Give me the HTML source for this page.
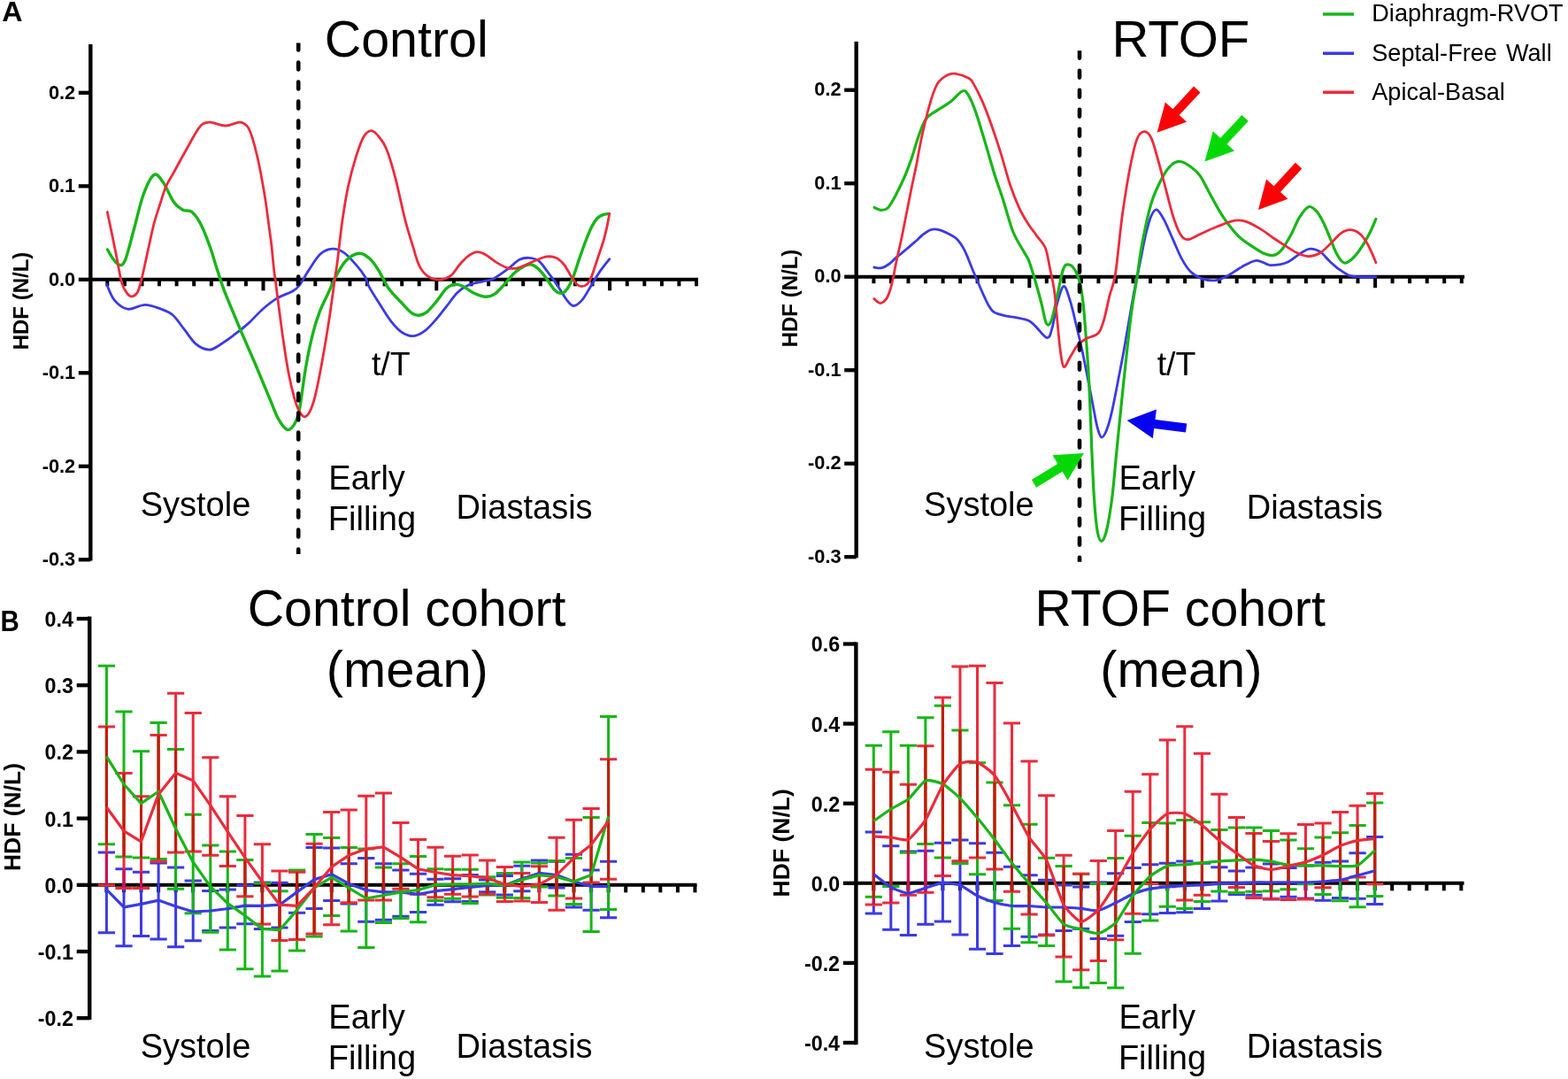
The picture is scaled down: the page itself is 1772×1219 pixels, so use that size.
<!DOCTYPE html>
<html><head><meta charset="utf-8"><title>HDF figure</title>
<style>
html,body{margin:0;padding:0;background:#fff;}
svg{display:block;}
text{font-family:'Liberation Sans', Arial, sans-serif;fill:#000;}
</style></head>
<body>
<svg width="1772" height="1219" viewBox="0 0 1772 1219">
<rect width="1772" height="1219" fill="#fff"/>
<text x="2.2" y="24" font-size="32.2" font-weight="bold" text-anchor="start">A</text>
<line x1="102.3" y1="50" x2="102.3" y2="633.5" stroke="#000" stroke-width="4.4"/>
<line x1="88.8" y1="104.8" x2="102.3" y2="104.8" stroke="#000" stroke-width="4.3"/>
<text x="85.2" y="111.5" font-size="21.8" font-weight="bold" text-anchor="end">0.2</text>
<line x1="88.8" y1="210.3" x2="102.3" y2="210.3" stroke="#000" stroke-width="4.3"/>
<text x="85.2" y="217" font-size="21.8" font-weight="bold" text-anchor="end">0.1</text>
<line x1="88.8" y1="315.8" x2="102.3" y2="315.8" stroke="#000" stroke-width="4.3"/>
<text x="85.2" y="322.5" font-size="21.8" font-weight="bold" text-anchor="end">0.0</text>
<line x1="88.8" y1="421.3" x2="102.3" y2="421.3" stroke="#000" stroke-width="4.3"/>
<text x="85.2" y="428" font-size="21.8" font-weight="bold" text-anchor="end">-0.1</text>
<line x1="88.8" y1="526.8" x2="102.3" y2="526.8" stroke="#000" stroke-width="4.3"/>
<text x="85.2" y="533.5" font-size="21.8" font-weight="bold" text-anchor="end">-0.2</text>
<line x1="88.8" y1="632.3" x2="102.3" y2="632.3" stroke="#000" stroke-width="4.3"/>
<text x="85.2" y="639" font-size="21.8" font-weight="bold" text-anchor="end">-0.3</text>
<line x1="102.3" y1="315.8" x2="789" y2="315.8" stroke="#000" stroke-width="4"/>
<line x1="121.3" y1="315.8" x2="121.3" y2="323.3" stroke="#000" stroke-width="4"/>
<line x1="140.9" y1="315.8" x2="140.9" y2="323.3" stroke="#000" stroke-width="4"/>
<line x1="160.5" y1="315.8" x2="160.5" y2="323.3" stroke="#000" stroke-width="4"/>
<line x1="180" y1="315.8" x2="180" y2="323.3" stroke="#000" stroke-width="4"/>
<line x1="199.6" y1="315.8" x2="199.6" y2="323.3" stroke="#000" stroke-width="4"/>
<line x1="219.2" y1="315.8" x2="219.2" y2="323.3" stroke="#000" stroke-width="4"/>
<line x1="238.8" y1="315.8" x2="238.8" y2="323.3" stroke="#000" stroke-width="4"/>
<line x1="258.4" y1="315.8" x2="258.4" y2="323.3" stroke="#000" stroke-width="4"/>
<line x1="277.9" y1="315.8" x2="277.9" y2="323.3" stroke="#000" stroke-width="4"/>
<line x1="297.5" y1="315.8" x2="297.5" y2="328.3" stroke="#000" stroke-width="4"/>
<line x1="317.1" y1="315.8" x2="317.1" y2="323.3" stroke="#000" stroke-width="4"/>
<line x1="336.7" y1="315.8" x2="336.7" y2="323.3" stroke="#000" stroke-width="4"/>
<line x1="356.3" y1="315.8" x2="356.3" y2="323.3" stroke="#000" stroke-width="4"/>
<line x1="375.8" y1="315.8" x2="375.8" y2="323.3" stroke="#000" stroke-width="4"/>
<line x1="395.4" y1="315.8" x2="395.4" y2="323.3" stroke="#000" stroke-width="4"/>
<line x1="415" y1="315.8" x2="415" y2="323.3" stroke="#000" stroke-width="4"/>
<line x1="434.6" y1="315.8" x2="434.6" y2="323.3" stroke="#000" stroke-width="4"/>
<line x1="454.2" y1="315.8" x2="454.2" y2="323.3" stroke="#000" stroke-width="4"/>
<line x1="473.7" y1="315.8" x2="473.7" y2="323.3" stroke="#000" stroke-width="4"/>
<line x1="493.3" y1="315.8" x2="493.3" y2="328.3" stroke="#000" stroke-width="4"/>
<line x1="512.9" y1="315.8" x2="512.9" y2="323.3" stroke="#000" stroke-width="4"/>
<line x1="532.5" y1="315.8" x2="532.5" y2="323.3" stroke="#000" stroke-width="4"/>
<line x1="552.1" y1="315.8" x2="552.1" y2="323.3" stroke="#000" stroke-width="4"/>
<line x1="571.6" y1="315.8" x2="571.6" y2="323.3" stroke="#000" stroke-width="4"/>
<line x1="591.2" y1="315.8" x2="591.2" y2="323.3" stroke="#000" stroke-width="4"/>
<line x1="610.8" y1="315.8" x2="610.8" y2="323.3" stroke="#000" stroke-width="4"/>
<line x1="630.4" y1="315.8" x2="630.4" y2="323.3" stroke="#000" stroke-width="4"/>
<line x1="650" y1="315.8" x2="650" y2="323.3" stroke="#000" stroke-width="4"/>
<line x1="669.5" y1="315.8" x2="669.5" y2="323.3" stroke="#000" stroke-width="4"/>
<line x1="689.1" y1="315.8" x2="689.1" y2="328.3" stroke="#000" stroke-width="4"/>
<line x1="708.7" y1="315.8" x2="708.7" y2="323.3" stroke="#000" stroke-width="4"/>
<line x1="728.3" y1="315.8" x2="728.3" y2="323.3" stroke="#000" stroke-width="4"/>
<line x1="747.9" y1="315.8" x2="747.9" y2="323.3" stroke="#000" stroke-width="4"/>
<line x1="767.4" y1="315.8" x2="767.4" y2="323.3" stroke="#000" stroke-width="4"/>
<line x1="787" y1="315.8" x2="787" y2="323.3" stroke="#000" stroke-width="4"/>
<text x="0" y="0" font-size="24" font-weight="bold" text-anchor="middle" transform="translate(32.2,340) rotate(-90)">HDF (N/L)</text>
<text x="459.2" y="64.2" font-size="57.4" font-weight="normal" text-anchor="middle">Control</text>
<text x="441.8" y="424" font-size="37.5" font-weight="normal" text-anchor="middle">t/T</text>
<text x="221" y="582.7" font-size="38" font-weight="normal" text-anchor="middle">Systole</text>
<text x="371.3" y="552.9" font-size="38" font-weight="normal" text-anchor="start">Early</text>
<text x="370.8" y="599.1" font-size="38" font-weight="normal" text-anchor="start">Filling</text>
<text x="592.5" y="585.9" font-size="38" font-weight="normal" text-anchor="middle">Diastasis</text>
<g fill="none" stroke-linejoin="round" stroke-linecap="round">
<path d="M120.5,321.3 C122,324.3 125.5,334.8 129.5,339.4 C133.5,344 138.6,348.4 144.3,349.2 C150.1,350 157.7,344.3 164,344.3 C170.3,344.3 176.8,347.3 182,349.2 C187.2,351.1 190.7,352 195.1,355.8 C199.5,359.6 203.9,366.7 208.3,372.2 C212.7,377.7 216.8,384.8 221.4,388.6 C226.1,392.4 231.8,394.8 236.2,395.1 C240.6,395.4 243,392.9 247.6,390.2 C252.2,387.5 258.5,382.8 264,378.7 C269.5,374.6 274.9,370.5 280.4,365.6 C285.9,360.7 291.4,354 296.9,349.2 C302.4,344.4 307.8,340.2 313.3,336.9 C318.8,333.6 325.6,331.8 329.7,329.5 C333.8,327.2 334.7,327 337.9,323 C341.1,319 344.7,311.6 348.7,305.6 C352.7,299.6 357.5,291.1 362,287 C366.5,282.9 371.3,281.4 375.7,281.1 C380.1,280.8 384.2,282.4 388.6,285.4 C393.1,288.4 398.4,294.6 402.4,299.2 C406.4,303.8 410.2,308.8 412.7,313 C415.2,317.2 414.4,319 417.3,324.3 C420.2,329.6 425.7,338.1 429.8,344.6 C433.9,351.1 438.1,358.1 442.2,363.3 C446.3,368.5 450.5,373 454.7,375.7 C458.9,378.4 463,379.9 467.2,379.6 C471.4,379.4 475.5,377.2 479.6,374.2 C483.8,371.2 487.9,366.4 492.1,361.7 C496.3,357 500.5,351.3 504.6,346.1 C508.8,340.9 512.9,334.5 517,330.5 C521.1,326.5 524.8,324.1 529.5,322 C534.2,319.9 540.4,319.3 545.1,318.1 C549.8,316.9 552.9,317.2 557.6,314.9 C562.3,312.6 568.6,307.8 573.5,304.2 C578.4,300.6 583,295.4 587.1,293.3 C591.2,291.2 594.3,291.1 597.9,291.3 C601.5,291.5 605.2,291.9 608.8,294.7 C612.4,297.5 616,303.5 619.6,308.2 C623.2,312.9 627,318.1 630.4,323.1 C633.8,328.1 637,334.3 639.9,338 C642.8,341.7 645.1,345.3 648,345.5 C650.9,345.7 654.3,342.9 657.5,339.4 C660.7,335.9 663.6,329.9 667,324.5 C670.4,319.1 674.2,312.2 677.8,306.9 C681.4,301.6 686.9,295.1 688.7,292.7" stroke="#3a3ae6" stroke-width="2.8"/>
<path d="M121.5,282 C122.5,283.7 125.3,289.1 127.5,292 C129.7,294.9 132.2,298.9 134.5,299.2 C136.8,299.5 138.5,300.9 141.4,294 C144.3,287.1 148.3,270.1 151.7,257.8 C155.1,245.5 158.3,230.1 162,220 C165.7,209.9 170.4,199.8 174.1,197.5 C177.8,195.2 180.7,200.9 184.4,206.1 C188.1,211.3 192.8,223.3 196.5,228.5 C200.2,233.7 203.4,235.3 206.8,237.2 C210.2,239.1 213.8,236.8 217.2,239.7 C220.6,242.6 224.1,247.7 227.5,254.4 C230.9,261.1 235.1,272.6 237.8,280.2 C240.6,287.8 241.5,292.3 244,300 C246.5,307.7 249.3,317.2 252.6,326.2 C255.9,335.2 260.7,346.2 264,354.1 C267.3,362 268.1,364.2 272.2,373.8 C276.3,383.4 283.1,398.6 288.6,411.5 C294.1,424.4 300.6,440.5 305,450.9 C309.4,461.3 311.6,468.1 314.9,473.9 C318.2,479.6 321.7,484.6 324.7,485.4 C327.7,486.2 330.6,482.7 332.9,478.8 C335.2,474.9 336.4,472.7 338.5,462 C340.6,451.3 343.1,428.8 345.6,414.7 C348.1,400.6 350.8,387.7 353.4,377.3 C356,366.9 358.3,359.8 361.2,352.3 C364.1,344.8 367.4,338.9 370.5,332.1 C373.6,325.4 376.5,318 379.9,311.8 C383.3,305.6 386.5,298.9 390.8,294.7 C395.1,290.4 401.3,286.7 405.8,286.3 C410.3,285.9 414.2,289 417.9,292.3 C421.6,295.6 424.7,300.4 428.2,306 C431.7,311.6 434.7,319.6 439.1,325.8 C443.5,332 450.3,338.3 454.7,343 C459.1,347.7 462.5,351.7 465.6,353.9 C468.7,356.1 470.5,356.5 473.4,356.2 C476.2,355.9 479.3,355 482.7,352.3 C486.1,349.6 490,344.3 493.7,339.9 C497.4,335.5 501.2,328.9 504.6,325.8 C508,322.7 510.8,321.6 513.9,321.2 C517,320.8 519.7,321.8 523.3,323.5 C526.9,325.2 531.6,329.4 535.7,331.3 C539.9,333.2 544.3,335.1 548.2,335.2 C552.1,335.3 555.3,334.6 559.1,332.1 C562.9,329.6 566.8,324.6 570.8,320.4 C574.8,316.2 578.5,310.5 583,306.9 C587.5,303.3 593.8,299.5 597.9,298.8 C602,298.1 604.2,300.3 607.4,302.8 C610.6,305.3 613.7,309.6 616.9,313.7 C620.1,317.8 623.5,324.3 626.4,327.2 C629.3,330.1 632,331.5 634.5,331.3 C637,331.1 639,329.1 641.3,325.9 C643.5,322.7 645.8,317.9 648,312.3 C650.2,306.7 652.5,298.6 654.8,292 C657.1,285.4 659.3,278.9 661.6,273 C663.9,267.1 666.2,261.2 668.4,256.8 C670.6,252.4 672.9,248.8 675,246.5 C677.1,244.2 678.8,243.6 681,242.8 C683.2,242 686.8,241.7 688,241.5" stroke="#17b617" stroke-width="3.4"/>
<path d="M121.3,239.5 C122.3,244.2 125.3,258.7 127.2,267.7 C129.1,276.7 130.7,284.9 132.4,293.5 C134.1,302.1 135.6,313 137.5,319.3 C139.4,325.6 141.7,328.8 143.6,331.4 C145.5,334 147.2,335.1 149.2,334.8 C151.2,334.5 153.8,332.9 155.6,329.7 C157.4,326.5 158,323.4 159.9,315.9 C161.8,308.4 164.5,295.2 166.8,284.9 C169.1,274.6 171.4,262.8 173.7,253.9 C176,245 178.3,238.7 180.6,231.5 C182.9,224.3 184.9,216.9 187.5,210.9 C190.1,204.9 192.9,201.1 196.1,195.4 C199.2,189.7 203.2,182.2 206.4,176.5 C209.6,170.8 212.4,165.6 215,161 C217.6,156.4 219.6,152.4 221.9,148.9 C224.2,145.4 226.3,142 229,140.2 C231.7,138.4 233.5,137.8 237.8,138.1 C242.1,138.4 249.5,142 255,142 C260.5,142 266.6,138 270.6,138.1 C274.6,138.2 276.8,139.7 279.2,142.4 C281.6,145.2 282.8,148.5 284.8,154.6 C286.8,160.7 289.4,171 291.3,179.2 C293.2,187.4 294.7,195.6 296.2,203.8 C297.7,212 299.1,220.2 300.3,228.4 C301.5,236.6 302.5,244.7 303.6,252.9 C304.7,261.1 305.9,269.3 306.9,277.5 C307.8,285.7 308.6,295.8 309.3,302.1 C310,308.4 309.2,301.9 311,315.2 C312.8,328.5 317.2,364 319.8,382 C322.4,400 324.2,411.5 326.4,423 C328.6,434.5 331.1,444.1 333,450.9 C334.9,457.7 336.1,460.7 337.9,464 C339.7,467.3 341.9,470.7 344,470.8 C346.1,470.9 348.2,468.8 350.3,464.6 C352.4,460.5 354.2,455.5 356.5,445.9 C358.8,436.3 361.7,421.2 364.3,406.9 C366.9,392.6 369.8,375.3 372.1,360.1 C374.4,344.9 376.7,327 378.3,315.7 C379.9,304.4 380.3,303.4 381.7,292.3 C383.1,281.2 384.9,263 386.9,249.2 C388.9,235.4 391.1,221.6 393.7,209.6 C396.3,197.6 399.5,186.1 402.4,176.9 C405.3,167.7 408.1,159.4 411,154.5 C413.9,149.6 416.7,147.6 419.6,147.6 C422.5,147.6 425.3,151 428.2,154.5 C431.1,158 433.7,160.8 436.8,168.5 C439.9,176.2 443.1,187 446.7,200.6 C450.3,214.2 454.6,236.1 458.2,249.8 C461.8,263.5 466,276 468,282.7 C470,289.4 468.8,286.5 470,289.9 C471.2,293.3 473,299.2 475.2,302.9 C477.4,306.6 480,309.8 483,311.9 C486,314 489.9,315.4 493.4,315.8 C496.9,316.2 500.8,315.6 503.8,314.5 C506.8,313.4 509,312 511.6,309.4 C514.2,306.8 516.6,302.2 519.4,299 C522.2,295.8 525.2,292.3 528.4,289.9 C531.6,287.5 535.5,285.1 538.8,284.7 C542,284.3 544.2,285.4 547.9,287.3 C551.6,289.2 556.6,293.8 560.9,296.4 C565.2,299 570,301.8 573.9,302.9 C577.8,304 580.8,303.5 584.3,302.9 C587.8,302.2 591,300.5 594.7,299 C598.4,297.5 602.5,295.3 606.4,293.8 C610.3,292.3 614.3,290.3 618,289.9 C621.7,289.5 625.1,289.7 628.4,291.2 C631.6,292.7 634.7,295.6 637.5,299 C640.3,302.4 642.9,308.2 645.3,311.9 C647.7,315.6 649.8,319.1 651.8,321 C653.8,322.9 655,323.6 657,323.6 C659,323.6 661.5,322.9 663.5,321 C665.5,319.1 666.8,316.6 668.7,311.9 C670.7,307.1 673,299 675.2,292.5 C677.4,286 679.9,279.1 681.7,273 C683.5,266.9 684.8,261.3 686,256 C687.2,250.7 688.3,243.8 688.8,241.3" stroke="#ec2b3b" stroke-width="2.8"/>
</g>
<line x1="967.7" y1="47" x2="967.7" y2="630.3" stroke="#000" stroke-width="4.4"/>
<line x1="954.2" y1="101.7" x2="967.7" y2="101.7" stroke="#000" stroke-width="4.3"/>
<text x="950.6" y="108.4" font-size="21.8" font-weight="bold" text-anchor="end">0.2</text>
<line x1="954.2" y1="207.2" x2="967.7" y2="207.2" stroke="#000" stroke-width="4.3"/>
<text x="950.6" y="213.9" font-size="21.8" font-weight="bold" text-anchor="end">0.1</text>
<line x1="954.2" y1="312.7" x2="967.7" y2="312.7" stroke="#000" stroke-width="4.3"/>
<text x="950.6" y="319.4" font-size="21.8" font-weight="bold" text-anchor="end">0.0</text>
<line x1="954.2" y1="418.2" x2="967.7" y2="418.2" stroke="#000" stroke-width="4.3"/>
<text x="950.6" y="424.9" font-size="21.8" font-weight="bold" text-anchor="end">-0.1</text>
<line x1="954.2" y1="523.7" x2="967.7" y2="523.7" stroke="#000" stroke-width="4.3"/>
<text x="950.6" y="530.4" font-size="21.8" font-weight="bold" text-anchor="end">-0.2</text>
<line x1="954.2" y1="629.2" x2="967.7" y2="629.2" stroke="#000" stroke-width="4.3"/>
<text x="950.6" y="635.9" font-size="21.8" font-weight="bold" text-anchor="end">-0.3</text>
<line x1="967.7" y1="312.7" x2="1655" y2="312.7" stroke="#000" stroke-width="4"/>
<line x1="987.4" y1="312.7" x2="987.4" y2="320.2" stroke="#000" stroke-width="4"/>
<line x1="1006.9" y1="312.7" x2="1006.9" y2="320.2" stroke="#000" stroke-width="4"/>
<line x1="1026.5" y1="312.7" x2="1026.5" y2="320.2" stroke="#000" stroke-width="4"/>
<line x1="1046" y1="312.7" x2="1046" y2="320.2" stroke="#000" stroke-width="4"/>
<line x1="1065.6" y1="312.7" x2="1065.6" y2="320.2" stroke="#000" stroke-width="4"/>
<line x1="1085.1" y1="312.7" x2="1085.1" y2="320.2" stroke="#000" stroke-width="4"/>
<line x1="1104.6" y1="312.7" x2="1104.6" y2="320.2" stroke="#000" stroke-width="4"/>
<line x1="1124.2" y1="312.7" x2="1124.2" y2="320.2" stroke="#000" stroke-width="4"/>
<line x1="1143.7" y1="312.7" x2="1143.7" y2="320.2" stroke="#000" stroke-width="4"/>
<line x1="1163.3" y1="312.7" x2="1163.3" y2="325.2" stroke="#000" stroke-width="4"/>
<line x1="1182.8" y1="312.7" x2="1182.8" y2="320.2" stroke="#000" stroke-width="4"/>
<line x1="1202.3" y1="312.7" x2="1202.3" y2="320.2" stroke="#000" stroke-width="4"/>
<line x1="1221.9" y1="312.7" x2="1221.9" y2="320.2" stroke="#000" stroke-width="4"/>
<line x1="1241.4" y1="312.7" x2="1241.4" y2="320.2" stroke="#000" stroke-width="4"/>
<line x1="1261" y1="312.7" x2="1261" y2="320.2" stroke="#000" stroke-width="4"/>
<line x1="1280.5" y1="312.7" x2="1280.5" y2="320.2" stroke="#000" stroke-width="4"/>
<line x1="1300" y1="312.7" x2="1300" y2="320.2" stroke="#000" stroke-width="4"/>
<line x1="1319.6" y1="312.7" x2="1319.6" y2="320.2" stroke="#000" stroke-width="4"/>
<line x1="1339.1" y1="312.7" x2="1339.1" y2="320.2" stroke="#000" stroke-width="4"/>
<line x1="1358.7" y1="312.7" x2="1358.7" y2="325.2" stroke="#000" stroke-width="4"/>
<line x1="1378.2" y1="312.7" x2="1378.2" y2="320.2" stroke="#000" stroke-width="4"/>
<line x1="1397.7" y1="312.7" x2="1397.7" y2="320.2" stroke="#000" stroke-width="4"/>
<line x1="1417.3" y1="312.7" x2="1417.3" y2="320.2" stroke="#000" stroke-width="4"/>
<line x1="1436.8" y1="312.7" x2="1436.8" y2="320.2" stroke="#000" stroke-width="4"/>
<line x1="1456.4" y1="312.7" x2="1456.4" y2="320.2" stroke="#000" stroke-width="4"/>
<line x1="1475.9" y1="312.7" x2="1475.9" y2="320.2" stroke="#000" stroke-width="4"/>
<line x1="1495.4" y1="312.7" x2="1495.4" y2="320.2" stroke="#000" stroke-width="4"/>
<line x1="1515" y1="312.7" x2="1515" y2="320.2" stroke="#000" stroke-width="4"/>
<line x1="1534.5" y1="312.7" x2="1534.5" y2="320.2" stroke="#000" stroke-width="4"/>
<line x1="1554.1" y1="312.7" x2="1554.1" y2="325.2" stroke="#000" stroke-width="4"/>
<line x1="1573.6" y1="312.7" x2="1573.6" y2="320.2" stroke="#000" stroke-width="4"/>
<line x1="1593.1" y1="312.7" x2="1593.1" y2="320.2" stroke="#000" stroke-width="4"/>
<line x1="1612.7" y1="312.7" x2="1612.7" y2="320.2" stroke="#000" stroke-width="4"/>
<line x1="1632.2" y1="312.7" x2="1632.2" y2="320.2" stroke="#000" stroke-width="4"/>
<line x1="1651.8" y1="312.7" x2="1651.8" y2="320.2" stroke="#000" stroke-width="4"/>
<text x="0" y="0" font-size="24" font-weight="bold" text-anchor="middle" transform="translate(900.5,337) rotate(-90)">HDF (N/L)</text>
<text x="1334.4" y="64" font-size="58" font-weight="normal" text-anchor="middle">RTOF</text>
<text x="1329.5" y="424.2" font-size="37.5" font-weight="normal" text-anchor="middle">t/T</text>
<text x="1106.4" y="583.4" font-size="38" font-weight="normal" text-anchor="middle">Systole</text>
<text x="1264.4" y="552.7" font-size="38" font-weight="normal" text-anchor="start">Early</text>
<text x="1263.9" y="598.9" font-size="38" font-weight="normal" text-anchor="start">Filling</text>
<text x="1485.8" y="585.5" font-size="38" font-weight="normal" text-anchor="middle">Diastasis</text>
<line x1="1495" y1="16" x2="1530" y2="16" stroke="#17b617" stroke-width="3.6"/>
<text x="1550.3" y="24.3" font-size="27.1" font-weight="normal" text-anchor="start">Diaphragm-RVOT</text>
<line x1="1495" y1="60.2" x2="1530" y2="60.2" stroke="#3a3ae6" stroke-width="3.6"/>
<text x="1550.3" y="68.5" font-size="27.1" font-weight="normal" text-anchor="start" word-spacing="2.6">Septal-Free Wall</text>
<line x1="1495" y1="104.2" x2="1530" y2="104.2" stroke="#ec2b3b" stroke-width="3.6"/>
<text x="1550.3" y="112.5" font-size="27.1" font-weight="normal" text-anchor="start">Apical-Basal</text>
<g fill="none" stroke-linejoin="round" stroke-linecap="round">
<path d="M987.8,302 C989.2,302.1 993.4,303.3 996.2,302.7 C999,302.1 1001.7,300.5 1004.5,298.5 C1007.3,296.5 1009.6,293.7 1012.9,290.9 C1016.2,288.1 1020.4,284.9 1024.1,281.8 C1027.8,278.7 1032.1,274.9 1035.2,272.2 C1038.3,269.5 1039.6,267.6 1042.5,265.5 C1045.4,263.4 1049.2,260.3 1052.5,259.4 C1055.8,258.4 1059,259.1 1062,259.8 C1065,260.5 1067.1,261.6 1070.3,263.3 C1073.5,265 1078,266.7 1081.3,270 C1084.6,273.3 1086.9,276.6 1090.2,283.2 C1093.5,289.8 1097.2,300.2 1101.3,309.8 C1105.4,319.4 1111.4,333.7 1115,340.8 C1118.6,347.9 1119.5,349.6 1122.7,352.2 C1125.9,354.8 1129.7,355.2 1134.1,356.3 C1138.5,357.4 1144.2,357.9 1148.9,358.8 C1153.6,359.8 1158.5,360.4 1162,362 C1165.5,363.6 1166.6,365.3 1170.2,368.6 C1173.8,371.9 1180.2,381.4 1183.4,381.7 C1186.6,382 1187.2,376.8 1189.1,370.2 C1191,363.6 1192.6,350.1 1194.8,342.3 C1197,334.5 1199.7,323.8 1202.2,323.5 C1204.7,323.2 1207.3,333.4 1209.6,340.7 C1211.9,347.9 1214,358 1216.2,367 C1218.4,376 1220.5,384.7 1222.7,394.8 C1224.9,404.9 1227.3,417.5 1229.3,427.7 C1231.3,437.9 1233,446.9 1234.8,456.1 C1236.6,465.4 1238.5,476.9 1240.2,483.2 C1241.9,489.5 1243,493.4 1244.7,494 C1246.4,494.6 1248.2,491.6 1250.2,486.8 C1252.2,482 1254,476.2 1256.5,465.1 C1259,454 1263.2,431.7 1265.5,420 C1267.8,408.3 1267.8,408.6 1270.3,394.8 C1272.8,381 1277.2,353.8 1280.2,337.4 C1283.2,321 1286,308.5 1288.4,296.4 C1290.9,284.2 1292.8,273.2 1294.9,264.5 C1297,255.8 1299,248.6 1301,244 C1303,239.4 1304.8,236.2 1307.2,236.9 C1309.6,237.6 1312.3,242.5 1315.4,248.1 C1318.5,253.7 1322.2,263.2 1325.6,270.7 C1329,278.2 1332.5,287 1335.9,293.2 C1339.3,299.4 1342.3,304 1346.1,307.6 C1349.8,311.2 1354,313.3 1358.4,314.8 C1362.9,316.3 1368,317.3 1372.8,316.8 C1377.6,316.3 1382,314.3 1387.1,311.7 C1392.2,309.1 1398,304.3 1403.5,301.4 C1409,298.5 1414.8,294.6 1419.9,294.3 C1425,294 1430,298.6 1434.3,299.4 C1438.6,300.1 1442.4,299.4 1446,298.8 C1449.6,298.2 1452.2,297.8 1456,295.8 C1459.8,293.8 1464.6,289.4 1468.6,287 C1472.6,284.6 1476.3,281.5 1480.2,281.1 C1484.1,280.7 1488.2,282.1 1491.9,284.4 C1495.6,286.7 1498.8,291.6 1502.3,294.8 C1505.8,298 1509,301.1 1512.7,303.8 C1516.4,306.5 1520.3,309.5 1524.4,311 C1528.5,312.5 1532.3,312.6 1537.4,312.9 C1542.5,313.2 1552,312.9 1554.9,312.9" stroke="#3a3ae6" stroke-width="2.8"/>
<path d="M988.1,234.4 C989.3,234.9 993,237.3 995.5,237.4 C998,237.5 1000.7,237.2 1003.1,235.1 C1005.5,233 1007.8,228.7 1010.1,224.6 C1012.4,220.5 1014.8,215.6 1017.1,210.7 C1019.4,205.8 1021.9,200.8 1024.1,195.3 C1026.3,189.9 1028.1,185 1030.5,178 C1032.9,171 1035.6,160.5 1038.3,153.2 C1041,145.9 1043.2,138.8 1046.8,134 C1050.3,129.2 1055,127.6 1059.6,124.4 C1064.2,121.2 1069.9,118.3 1074.5,114.8 C1079.1,111.2 1084.1,104.5 1087.3,103.1 C1090.5,101.7 1091.2,102.6 1093.7,106.3 C1096.2,110 1099.1,116.6 1102.3,125.5 C1105.5,134.4 1109.4,147.9 1112.9,159.6 C1116.5,171.3 1120,184.5 1123.6,195.9 C1127.2,207.3 1130.8,216.9 1134.3,227.9 C1137.8,238.9 1141,252.4 1144.9,262 C1148.8,271.6 1154.8,280.1 1157.7,285.4 C1160.6,290.7 1160.7,289.4 1162.5,294 C1164.3,298.6 1166.2,304.8 1168.6,312.8 C1171,320.9 1174.5,333.6 1176.8,342.3 C1179.1,351.1 1180.6,362 1182.5,365.3 C1184.4,368.6 1186.2,367.2 1188.3,362 C1190.3,356.8 1192.6,343.7 1194.8,334.1 C1197,324.5 1199.3,310.5 1201.4,304.6 C1203.5,298.7 1205,298.9 1207.2,298.9 C1209.4,298.9 1212.3,301.2 1214.5,304.6 C1216.7,308 1218.6,312.6 1220.3,319.4 C1222,326.2 1223.2,334.4 1224.4,345.6 C1225.6,356.8 1226.6,371.6 1227.7,386.6 C1228.8,401.7 1229.9,415.3 1230.9,435.9 C1231.9,456.5 1233,488.8 1233.9,510.2 C1234.9,531.6 1235.5,549.4 1236.6,564.4 C1237.6,579.4 1238.8,592.7 1240.2,600.5 C1241.6,608.3 1243,611.3 1244.7,611.3 C1246.4,611.3 1248.2,608.3 1250.2,600.5 C1252.2,592.7 1254.5,579.4 1256.5,564.4 C1258.5,549.4 1260.1,528.2 1261.9,510.2 C1263.7,492.1 1265.6,472.6 1267.3,456.1 C1269,439.6 1270.1,428.4 1272,411.3 C1273.9,394.2 1276.3,370.2 1278.5,353.8 C1280.7,337.4 1283,326 1285.1,312.8 C1287.1,299.6 1288.1,288.7 1290.8,274.8 C1293.5,260.9 1297.2,242 1301,229.7 C1304.8,217.4 1309.5,208.2 1313.3,201 C1317.1,193.8 1320.2,189.7 1323.6,186.6 C1327,183.5 1330,182.2 1333.8,182.5 C1337.5,182.8 1342.3,186 1346.1,188.7 C1349.9,191.4 1352.6,193.4 1356.4,198.9 C1360.2,204.4 1364.3,213.6 1368.7,221.5 C1373.1,229.4 1377.9,238.6 1383,246.1 C1388.1,253.6 1393.9,261.1 1399.4,266.6 C1404.9,272.1 1410.7,275.5 1415.8,278.9 C1420.9,282.3 1426.1,285.6 1430.2,287.1 C1434.3,288.6 1437.3,289 1440.4,288.1 C1443.5,287.2 1445.9,285.4 1449,281.5 C1452.1,277.6 1455.9,270.7 1459.2,264.7 C1462.5,258.7 1465.3,250.6 1468.6,245.4 C1471.9,240.2 1475.7,234.8 1478.9,233.7 C1482.1,232.6 1485.2,235.9 1488,238.9 C1490.8,241.9 1493.2,246.7 1495.8,251.9 C1498.4,257.1 1501.2,264.5 1503.6,270.1 C1506,275.7 1507.9,281.5 1510.1,285.7 C1512.3,289.9 1514.6,293.6 1516.6,295.4 C1518.5,297.2 1519.4,297.7 1521.8,296.7 C1524.2,295.7 1527.7,293.2 1530.9,289.6 C1534.1,286 1538.2,280.1 1541.2,275.3 C1544.2,270.5 1546.7,265.6 1549,261 C1551.3,256.4 1553.9,249.7 1554.9,247.4" stroke="#17b617" stroke-width="3.2"/>
<path d="M987.8,337.6 C988.4,338.1 990.2,340 991.5,340.8 C992.8,341.6 993.8,343 995.5,342.5 C997.2,342 1000,340.1 1001.7,337.6 C1003.4,335.2 1004.6,331.8 1005.9,327.8 C1007.2,323.9 1008.2,319.2 1009.4,313.9 C1010.6,308.6 1011.4,303 1012.9,295.8 C1014.4,288.6 1016.6,279.5 1018.5,270.7 C1020.4,261.9 1022.2,252.1 1024.1,242.8 C1025.9,233.5 1027.8,224 1029.6,214.9 C1031.4,205.8 1033.2,198.3 1035.2,188.4 C1037.2,178.5 1039,167 1041.5,155.5 C1044,144 1047.3,129.4 1050.3,119.3 C1053.2,109.2 1055.9,100.6 1059.2,94.9 C1062.5,89.2 1067,87 1070.3,85 C1073.6,83 1075,82.7 1079.1,83.2 C1083.1,83.8 1091.1,86.4 1094.6,88.3 C1098.1,90.2 1097.4,90 1100,94.4 C1102.6,98.8 1106.9,107.1 1110.3,114.9 C1113.7,122.8 1117.1,131.9 1120.5,141.5 C1123.9,151.1 1127.4,161.4 1130.8,172.3 C1134.2,183.2 1137.6,196.9 1141,207.2 C1144.4,217.4 1147.9,226.3 1151.3,233.8 C1154.7,241.3 1158.1,246.8 1161.5,252.3 C1164.9,257.8 1168.5,261.9 1171.8,266.6 C1175.1,271.3 1179.1,274.6 1181.5,280.5 C1183.9,286.4 1184.6,293.9 1186.3,302 C1188,310.1 1190.2,319.2 1191.6,329.2 C1193,339.2 1193.7,351.1 1194.8,362 C1195.9,372.9 1196.9,386.1 1198.1,394.8 C1199.3,403.6 1200.3,413.1 1202.2,414.5 C1204.1,415.9 1207,407.1 1209.6,403 C1212.2,398.9 1214.8,393.3 1217.8,389.9 C1220.8,386.5 1223.9,384.7 1227.7,382.5 C1231.5,380.3 1237.5,380.2 1240.8,376.8 C1244.1,373.4 1245.2,369.1 1247.4,362 C1249.6,354.9 1251.7,342.9 1253.9,334.1 C1256.1,325.4 1258.1,324.5 1260.5,309.5 C1262.9,294.5 1265.5,263.4 1268.2,244 C1270.9,224.6 1273.7,207.2 1276.4,192.8 C1279.1,178.5 1281.9,165.2 1284.6,157.9 C1287.3,150.6 1290.1,149 1292.8,148.7 C1295.5,148.4 1298.3,150.3 1301,155.9 C1303.7,161.5 1306.5,172.9 1309.2,182.5 C1311.9,192.1 1314.7,203.1 1317.4,213.3 C1320.1,223.6 1322.9,235.5 1325.6,244 C1328.3,252.5 1331.1,260.1 1333.8,264.5 C1336.5,268.9 1338.2,270.7 1342,270.7 C1345.8,270.7 1350.9,266.9 1356.4,264.5 C1361.9,262.1 1368.3,258.9 1374.8,256.3 C1381.3,253.8 1389.8,250.2 1395.3,249.2 C1400.8,248.2 1402.8,248.7 1407.6,250.2 C1412.4,251.7 1418.6,255.2 1424,258.4 C1429.4,261.6 1435.2,266.2 1440,269.5 C1444.8,272.8 1448.7,275.2 1453,277.9 C1457.3,280.6 1461.7,283.8 1466,285.7 C1470.3,287.6 1474.6,289.6 1478.9,289.6 C1483.2,289.6 1487.6,288.3 1491.9,285.7 C1496.2,283.1 1501,277.7 1504.9,274 C1508.8,270.3 1511.8,266 1515.3,263.6 C1518.8,261.2 1522.2,259.7 1525.7,259.7 C1529.2,259.7 1533.1,261.4 1536.1,263.6 C1539.1,265.8 1541.4,269 1543.8,272.7 C1546.2,276.4 1548.4,281.7 1550.3,285.7 C1552.2,289.7 1554.1,294.9 1554.9,296.7" stroke="#ec2b3b" stroke-width="2.8"/>
</g>
<clipPath id="cd1"><rect x="330" y="48.6" width="15" height="577.3"/></clipPath>
<clipPath id="cd2"><rect x="1212" y="57.2" width="15" height="577.6"/></clipPath>
<line x1="337.2" y1="48.6" x2="337.2" y2="640" stroke="#000" stroke-width="4.6" stroke-dasharray="7.8 14.2" stroke-linecap="round" clip-path="url(#cd1)"/>
<line x1="1220" y1="57.8" x2="1220" y2="650" stroke="#000" stroke-width="4.6" stroke-dasharray="7.8 14.2" stroke-linecap="round" clip-path="url(#cd2)"/>
<path d="M1307.6,149.7 L1341.1,137.8 L1332.7,130 L1356.5,104.4 L1349.1,97.6 L1325.4,123.2 L1316.9,115.4 Z" fill="#fa0306"/>
<path d="M1361.5,182.5 L1395,170.6 L1386.6,162.8 L1410.8,136.7 L1403.4,129.9 L1379.2,156 L1370.8,148.2 Z" fill="#05d905"/>
<path d="M1422,236.9 L1455.4,224.8 L1447,217 L1471.3,190.5 L1463.9,183.7 L1439.6,210.3 L1431.1,202.5 Z" fill="#fa0306"/>
<path d="M1273.6,475 L1302.8,495.3 L1304.2,483.9 L1340,488.5 L1341.2,478.5 L1305.5,474 L1306.9,462.6 Z" fill="#0703f0"/>
<path d="M1224.9,512 L1189.4,514.3 L1195.4,524.1 L1165.9,542.1 L1171.1,550.7 L1200.6,532.7 L1206.6,542.5 Z" fill="#05d905"/>
<text transform="translate(0.5,713.4) scale(1.0,1.11)" font-size="29.5" font-weight="bold" text-anchor="start">B</text>
<line x1="101.2" y1="696.5" x2="101.2" y2="1152" stroke="#000" stroke-width="4.4"/>
<line x1="86.7" y1="699" x2="101.2" y2="699" stroke="#000" stroke-width="4.3"/>
<text x="82.9" y="707.9" font-size="23.3" font-weight="bold" text-anchor="end">0.4</text>
<line x1="86.7" y1="774.2" x2="101.2" y2="774.2" stroke="#000" stroke-width="4.3"/>
<text x="82.9" y="783.1" font-size="23.3" font-weight="bold" text-anchor="end">0.3</text>
<line x1="86.7" y1="849.4" x2="101.2" y2="849.4" stroke="#000" stroke-width="4.3"/>
<text x="82.9" y="858.3" font-size="23.3" font-weight="bold" text-anchor="end">0.2</text>
<line x1="86.7" y1="924.6" x2="101.2" y2="924.6" stroke="#000" stroke-width="4.3"/>
<text x="82.9" y="933.5" font-size="23.3" font-weight="bold" text-anchor="end">0.1</text>
<line x1="86.7" y1="999.8" x2="101.2" y2="999.8" stroke="#000" stroke-width="4.3"/>
<text x="82.9" y="1008.7" font-size="23.3" font-weight="bold" text-anchor="end">0.0</text>
<line x1="86.7" y1="1075" x2="101.2" y2="1075" stroke="#000" stroke-width="4.3"/>
<text x="82.9" y="1083.9" font-size="23.3" font-weight="bold" text-anchor="end">-0.1</text>
<line x1="86.7" y1="1150.2" x2="101.2" y2="1150.2" stroke="#000" stroke-width="4.3"/>
<text x="82.9" y="1159.1" font-size="23.3" font-weight="bold" text-anchor="end">-0.2</text>
<text x="0" y="0" font-size="26.5" font-weight="bold" text-anchor="middle" transform="translate(23.3,923) rotate(-90)">HDF (N/L)</text>
<text x="459.6" y="707.3" font-size="57.3" font-weight="normal" text-anchor="middle">Control cohort</text>
<text x="460.3" y="776.3" font-size="57.8" font-weight="normal" text-anchor="middle">(mean)</text>
<text x="221" y="1194.7" font-size="38" font-weight="normal" text-anchor="middle">Systole</text>
<text x="371.3" y="1161.5" font-size="38" font-weight="normal" text-anchor="start">Early</text>
<text x="370.8" y="1207.6" font-size="38" font-weight="normal" text-anchor="start">Filling</text>
<text x="592.5" y="1195" font-size="38" font-weight="normal" text-anchor="middle">Diastasis</text>
<line x1="101.2" y1="999.8" x2="787.5" y2="999.8" stroke="#000" stroke-width="4"/>
<line x1="120.4" y1="999.8" x2="120.4" y2="1008.3" stroke="#000" stroke-width="4"/>
<line x1="140" y1="999.8" x2="140" y2="1008.3" stroke="#000" stroke-width="4"/>
<line x1="159.5" y1="999.8" x2="159.5" y2="1008.3" stroke="#000" stroke-width="4"/>
<line x1="179.1" y1="999.8" x2="179.1" y2="1008.3" stroke="#000" stroke-width="4"/>
<line x1="198.6" y1="999.8" x2="198.6" y2="1008.3" stroke="#000" stroke-width="4"/>
<line x1="218.2" y1="999.8" x2="218.2" y2="1008.3" stroke="#000" stroke-width="4"/>
<line x1="237.8" y1="999.8" x2="237.8" y2="1008.3" stroke="#000" stroke-width="4"/>
<line x1="257.3" y1="999.8" x2="257.3" y2="1008.3" stroke="#000" stroke-width="4"/>
<line x1="276.9" y1="999.8" x2="276.9" y2="1008.3" stroke="#000" stroke-width="4"/>
<line x1="296.4" y1="999.8" x2="296.4" y2="1008.3" stroke="#000" stroke-width="4"/>
<line x1="316" y1="999.8" x2="316" y2="1008.3" stroke="#000" stroke-width="4"/>
<line x1="335.6" y1="999.8" x2="335.6" y2="1008.3" stroke="#000" stroke-width="4"/>
<line x1="355.1" y1="999.8" x2="355.1" y2="1008.3" stroke="#000" stroke-width="4"/>
<line x1="374.7" y1="999.8" x2="374.7" y2="1008.3" stroke="#000" stroke-width="4"/>
<line x1="394.2" y1="999.8" x2="394.2" y2="1008.3" stroke="#000" stroke-width="4"/>
<line x1="413.8" y1="999.8" x2="413.8" y2="1008.3" stroke="#000" stroke-width="4"/>
<line x1="433.4" y1="999.8" x2="433.4" y2="1008.3" stroke="#000" stroke-width="4"/>
<line x1="452.9" y1="999.8" x2="452.9" y2="1008.3" stroke="#000" stroke-width="4"/>
<line x1="472.5" y1="999.8" x2="472.5" y2="1008.3" stroke="#000" stroke-width="4"/>
<line x1="492" y1="999.8" x2="492" y2="1008.3" stroke="#000" stroke-width="4"/>
<line x1="511.6" y1="999.8" x2="511.6" y2="1008.3" stroke="#000" stroke-width="4"/>
<line x1="531.2" y1="999.8" x2="531.2" y2="1008.3" stroke="#000" stroke-width="4"/>
<line x1="550.7" y1="999.8" x2="550.7" y2="1008.3" stroke="#000" stroke-width="4"/>
<line x1="570.3" y1="999.8" x2="570.3" y2="1008.3" stroke="#000" stroke-width="4"/>
<line x1="589.8" y1="999.8" x2="589.8" y2="1008.3" stroke="#000" stroke-width="4"/>
<line x1="609.4" y1="999.8" x2="609.4" y2="1008.3" stroke="#000" stroke-width="4"/>
<line x1="629" y1="999.8" x2="629" y2="1008.3" stroke="#000" stroke-width="4"/>
<line x1="648.5" y1="999.8" x2="648.5" y2="1008.3" stroke="#000" stroke-width="4"/>
<line x1="668.1" y1="999.8" x2="668.1" y2="1008.3" stroke="#000" stroke-width="4"/>
<line x1="687.6" y1="999.8" x2="687.6" y2="1008.3" stroke="#000" stroke-width="4"/>
<line x1="707.2" y1="999.8" x2="707.2" y2="1008.3" stroke="#000" stroke-width="4"/>
<line x1="726.8" y1="999.8" x2="726.8" y2="1008.3" stroke="#000" stroke-width="4"/>
<line x1="746.3" y1="999.8" x2="746.3" y2="1008.3" stroke="#000" stroke-width="4"/>
<line x1="765.9" y1="999.8" x2="765.9" y2="1008.3" stroke="#000" stroke-width="4"/>
<line x1="785.4" y1="999.8" x2="785.4" y2="1008.3" stroke="#000" stroke-width="4"/>
<path d="M120.4,962.9V1053.8M110.8,962.9H130M110.8,1053.8H130M140,981.8V1068.8M130.4,981.8H149.6M130.4,1068.8H149.6M159.5,985.3V1057.6M149.9,985.3H169.1M149.9,1057.6H169.1M179.1,975V1061M169.5,975H188.7M169.5,1061H188.7M198.6,980.1V1069.7M189,980.1H208.2M189,1069.7H208.2M218.2,995V1062.8M208.6,995H227.8M208.6,1062.8H227.8M237.8,1006.5V1051.5M228.2,1006.5H247.4M228.2,1051.5H247.4M257.3,1005V1048.1M247.7,1005H266.9M247.7,1048.1H266.9M276.9,1000V1043.8M267.3,1000H286.5M267.3,1043.8H286.5M296.4,997V1049.5M286.8,997H306M286.8,1049.5H306M316,997.2V1047.9M306.4,997.2H325.6M306.4,1047.9H325.6M335.6,984.6V1031.2M326,984.6H345.2M326,1031.2H345.2M355.1,957.5V1026.4M345.5,957.5H364.7M345.5,1026.4H364.7M374.7,958V1017.4M365.1,958H384.3M365.1,1017.4H384.3M394.2,975.8V1021M384.6,975.8H403.8M384.6,1021H403.8M413.8,969.4V1041.2M404.2,969.4H423.4M404.2,1041.2H423.4M433.4,975.8V1039.3M423.8,975.8H443M423.8,1039.3H443M452.9,982.9V1035.2M443.3,982.9H462.5M443.3,1035.2H462.5M472.5,987.2V1030.5M462.9,987.2H482.1M462.9,1030.5H482.1M492,993.2V1022.2M482.4,993.2H501.6M482.4,1022.2H501.6M511.6,992.8V1018.8M502,992.8H521.2M502,1018.8H521.2M531.2,988.6V1018.4M521.6,988.6H540.8M521.6,1018.4H540.8M550.7,993.9V1007.8M541.1,993.9H560.3M541.1,1007.8H560.3M570.3,989.6V1011M560.7,989.6H579.9M560.7,1011H579.9M589.8,978.3V1006.7M580.2,978.3H599.4M580.2,1006.7H599.4M609.4,971.9V1001.4M599.8,971.9H619M599.8,1001.4H619M629,973.2V1003M619.4,973.2H638.6M619.4,1003H638.6M648.5,965.3V1024.9M638.9,965.3H658.1M638.9,1024.9H658.1M668.1,983.1V1028.3M658.5,983.1H677.7M658.5,1028.3H677.7M687.6,973.3V1036.7M678,973.3H697.2M678,1036.7H697.2" stroke="#3a3ae6" stroke-width="3" fill="none"/>
<path d="M120.4,752.2V953.7M110.8,752.2H130M110.8,953.7H130M140,803.9V968M130.4,803.9H149.6M130.4,968H149.6M159.5,848.7V968.9M149.9,848.7H169.1M149.9,968.9H169.1M179.1,816.4V970.6M169.5,816.4H188.7M169.5,970.6H188.7M198.6,846.5V1004.2M189,846.5H208.2M189,1004.2H208.2M218.2,920.3V1031.8M208.6,920.3H227.8M208.6,1031.8H227.8M237.8,955.1V1053.3M228.2,955.1H247.4M228.2,1053.3H247.4M257.3,962V1073.1M247.7,962H266.9M247.7,1073.1H266.9M276.9,971.5V1094.7M267.3,971.5H286.5M267.3,1094.7H286.5M296.4,998V1103M286.8,998H306M286.8,1103H306M316,1006.7V1097.1M306.4,1006.7H325.6M306.4,1097.1H325.6M335.6,982.9V1074M326,982.9H345.2M326,1074H345.2M355.1,942.5V1058M345.5,942.5H364.7M345.5,1058H364.7M374.7,946.5V1034.5M365.1,946.5H384.3M365.1,1034.5H384.3M394.2,957.5V1051.9M384.6,957.5H403.8M384.6,1051.9H403.8M413.8,959.1V1070.4M404.2,959.1H423.4M404.2,1070.4H423.4M433.4,980.1V1042.4M423.8,980.1H443M423.8,1042.4H443M452.9,975.8V1037.6M443.3,975.8H462.5M443.3,1037.6H462.5M472.5,967.5V1041.7M462.9,967.5H482.1M462.9,1041.7H482.1M492,981.7V1017.4M482.4,981.7H501.6M482.4,1017.4H501.6M511.6,982.2V1015.2M502,982.2H521.2M502,1015.2H521.2M531.2,982.2V1020.6M521.6,982.2H540.8M521.6,1020.6H540.8M550.7,990.7V1011M541.1,990.7H560.3M541.1,1011H560.3M570.3,986.4V1014.2M560.7,986.4H579.9M560.7,1014.2H579.9M589.8,974V1014.6M580.2,974H599.4M580.2,1014.6H599.4M609.4,975V1002M599.8,975H619M599.8,1002H619M629,972.5V1012M619.4,972.5H638.6M619.4,1012H638.6M648.5,969.4V1021.6M638.9,969.4H658.1M638.9,1021.6H658.1M668.1,923.5V1052.4M658.5,923.5H677.7M658.5,1052.4H677.7M687.6,809.4V1027.5M678,809.4H697.2M678,1027.5H697.2" stroke="#17b617" stroke-width="3" fill="none"/>
<path d="M120.4,821.1V999.9M110.8,821.1H130M110.8,999.9H130M140,873.6V1003.4M130.4,873.6H149.6M130.4,1003.4H149.6M159.5,899.8V1003.4M149.9,899.8H169.1M149.9,1003.4H169.1M179.1,830.4V973.2M169.5,830.4H188.7M169.5,973.2H188.7M198.6,783.3V962.9M189,783.3H208.2M189,962.9H208.2M218.2,805.5V962M208.6,805.5H227.8M208.6,962H227.8M237.8,855.7V966.3M228.2,855.7H247.4M228.2,966.3H247.4M257.3,899.8V978.4M247.7,899.8H266.9M247.7,978.4H266.9M276.9,921.5V1012.8M267.3,921.5H286.5M267.3,1012.8H286.5M296.4,953.7V1044M286.8,953.7H306M286.8,1044H306M316,984.1V1062.6M306.4,984.1H325.6M306.4,1062.6H325.6M335.6,985.3V1061.4M326,985.3H345.2M326,1061.4H345.2M355.1,953.2V1055M345.5,953.2H364.7M345.5,1055H364.7M374.7,917.5V1044.8M365.1,917.5H384.3M365.1,1044.8H384.3M394.2,915.1V1019.8M384.6,915.1H403.8M384.6,1019.8H403.8M413.8,899.2V1016.9M404.2,899.2H423.4M404.2,1016.9H423.4M433.4,896.1V1016.9M423.8,896.1H443M423.8,1016.9H443M452.9,929.4V1004.3M443.3,929.4H462.5M443.3,1004.3H462.5M472.5,948.4V1010.3M462.9,948.4H482.1M462.9,1010.3H482.1M492,957.2V1013.8M482.4,957.2H501.6M482.4,1013.8H501.6M511.6,967.2V1010.3M502,967.2H521.2M502,1010.3H521.2M531.2,966.1V1013.1M521.6,966.1H540.8M521.6,1013.1H540.8M550.7,971.9V1009.9M541.1,971.9H560.3M541.1,1009.9H560.3M570.3,979.6V1018.4M560.7,979.6H579.9M560.7,1018.4H579.9M589.8,986.4V1018M580.2,986.4H599.4M580.2,1018H599.4M609.4,978.8V1019.4M599.8,978.8H619M599.8,1019.4H619M629,946.3V1028.2M619.4,946.3H638.6M619.4,1028.2H638.6M648.5,926.3V1015M638.9,926.3H658.1M638.9,1015H658.1M668.1,913.5V996.9M658.5,913.5H677.7M658.5,996.9H677.7M687.6,857.8V993.3M678,857.8H697.2M678,993.3H697.2" stroke="#ec2b3b" stroke-width="3" fill="none"/>
<path d="M120.4,821.1V953.7M140,873.6V968M159.5,899.8V968.9M179.1,830.4V970.6M198.6,846.5V962.9M218.2,920.3V962M237.8,955.1V966.3M257.3,962V978.4M276.9,971.5V1012.8M296.4,998V1044M316,1006.7V1062.6M335.6,985.3V1061.4M355.1,953.2V1055M374.7,946.5V1034.5M394.2,957.5V1019.8M413.8,959.1V1016.9M433.4,980.1V1016.9M452.9,975.8V1004.3M472.5,967.5V1010.3M492,981.7V1013.8M511.6,982.2V1010.3M531.2,982.2V1013.1M550.7,990.7V1009.9M570.3,986.4V1014.2M589.8,986.4V1014.6M609.4,978.8V1002M629,972.5V1012M648.5,969.4V1015M668.1,923.5V996.9M687.6,857.8V993.3" stroke="#c41c08" stroke-width="3" fill="none"/>
<path d="M120.4,962.9V999.9M140,981.8V1003.4M159.5,985.3V1003.4M316,997.2V1006.7M433.4,975.8V980.1M648.5,965.3V969.4" stroke="#d01052" stroke-width="3" fill="none"/>
<path d="M120.4,1005 L140,1024.9 L159.5,1021.4 L179.1,1017.1 L198.6,1024 L218.2,1030 L237.8,1029 L257.3,1026.6 L276.9,1023.2 L296.4,1023.4 L316,1022.2 L335.6,1007.9 L355.1,993.6 L374.7,987.7 L394.2,998.4 L413.8,1005.5 L433.4,1007.9 L452.9,1007.9 L472.5,1010.3 L492,1006.7 L511.6,1004.6 L531.2,1002.4 L550.7,1000.3 L570.3,1000.3 L589.8,992.8 L609.4,986.4 L629,988.6 L648.5,996 L668.1,1001.4 L687.6,1001.4" stroke="#3a3ae6" stroke-width="3.2" fill="none" stroke-linejoin="round"/>
<path d="M120.4,854.6 L140,886 L159.5,907.6 L179.1,894.3 L198.6,936.2 L218.2,974 L237.8,1001.6 L257.3,1020.6 L276.9,1034.4 L296.4,1049.5 L316,1050.7 L335.6,1028.1 L355.1,1003.1 L374.7,991.2 L394.2,1003.1 L413.8,1015 L433.4,1011.5 L452.9,1007.9 L472.5,1005.5 L492,999.6 L511.6,999.2 L531.2,999.2 L550.7,998.2 L570.3,1000.3 L589.8,993.9 L609.4,988.6 L629,990.7 L648.5,996 L668.1,988.6 L687.6,922.4" stroke="#17b617" stroke-width="3.2" fill="none" stroke-linejoin="round"/>
<path d="M120.4,912 L140,938.8 L159.5,950.8 L179.1,897.4 L198.6,873.3 L218.2,881.9 L237.8,909.9 L257.3,939.6 L276.9,968.9 L296.4,996 L316,1022.2 L335.6,1023.4 L355.1,1003.1 L374.7,979.4 L394.2,966.3 L413.8,959.1 L433.4,956.8 L452.9,968.7 L472.5,981.7 L492,985.5 L511.6,988.6 L531.2,989.6 L550.7,991.8 L570.3,999.2 L589.8,1001.4 L609.4,999.2 L629,988.6 L648.5,969.4 L668.1,954.4 L687.6,927.7" stroke="#ec2b3b" stroke-width="3.2" fill="none" stroke-linejoin="round"/>
<line x1="967.4" y1="725.5" x2="967.4" y2="1180.3" stroke="#000" stroke-width="4.4"/>
<line x1="952.9" y1="727.5" x2="967.4" y2="727.5" stroke="#000" stroke-width="4.3"/>
<text x="949.1" y="736.4" font-size="23.3" font-weight="bold" text-anchor="end">0.6</text>
<line x1="952.9" y1="817.6" x2="967.4" y2="817.6" stroke="#000" stroke-width="4.3"/>
<text x="949.1" y="826.5" font-size="23.3" font-weight="bold" text-anchor="end">0.4</text>
<line x1="952.9" y1="907.7" x2="967.4" y2="907.7" stroke="#000" stroke-width="4.3"/>
<text x="949.1" y="916.6" font-size="23.3" font-weight="bold" text-anchor="end">0.2</text>
<line x1="952.9" y1="997.8" x2="967.4" y2="997.8" stroke="#000" stroke-width="4.3"/>
<text x="949.1" y="1006.7" font-size="23.3" font-weight="bold" text-anchor="end">0.0</text>
<line x1="952.9" y1="1087.9" x2="967.4" y2="1087.9" stroke="#000" stroke-width="4.3"/>
<text x="949.1" y="1096.8" font-size="23.3" font-weight="bold" text-anchor="end">-0.2</text>
<line x1="952.9" y1="1178" x2="967.4" y2="1178" stroke="#000" stroke-width="4.3"/>
<text x="949.1" y="1186.9" font-size="23.3" font-weight="bold" text-anchor="end">-0.4</text>
<text x="0" y="0" font-size="26.5" font-weight="bold" text-anchor="middle" transform="translate(892.3,952.3) rotate(-90)">HDF (N/L)</text>
<text x="1333.6" y="707" font-size="57.2" font-weight="normal" text-anchor="middle">RTOF cohort</text>
<text x="1334.9" y="775.7" font-size="57.8" font-weight="normal" text-anchor="middle">(mean)</text>
<text x="1106.4" y="1194.7" font-size="38" font-weight="normal" text-anchor="middle">Systole</text>
<text x="1264.4" y="1161.5" font-size="38" font-weight="normal" text-anchor="start">Early</text>
<text x="1263.9" y="1207.6" font-size="38" font-weight="normal" text-anchor="start">Filling</text>
<text x="1485.8" y="1195" font-size="38" font-weight="normal" text-anchor="middle">Diastasis</text>
<line x1="967.4" y1="997.8" x2="1654.5" y2="997.8" stroke="#000" stroke-width="4"/>
<line x1="987.3" y1="997.8" x2="987.3" y2="1006.3" stroke="#000" stroke-width="4"/>
<line x1="1006.8" y1="997.8" x2="1006.8" y2="1006.3" stroke="#000" stroke-width="4"/>
<line x1="1026.4" y1="997.8" x2="1026.4" y2="1006.3" stroke="#000" stroke-width="4"/>
<line x1="1045.9" y1="997.8" x2="1045.9" y2="1006.3" stroke="#000" stroke-width="4"/>
<line x1="1065.4" y1="997.8" x2="1065.4" y2="1006.3" stroke="#000" stroke-width="4"/>
<line x1="1085" y1="997.8" x2="1085" y2="1006.3" stroke="#000" stroke-width="4"/>
<line x1="1104.5" y1="997.8" x2="1104.5" y2="1006.3" stroke="#000" stroke-width="4"/>
<line x1="1124" y1="997.8" x2="1124" y2="1006.3" stroke="#000" stroke-width="4"/>
<line x1="1143.5" y1="997.8" x2="1143.5" y2="1006.3" stroke="#000" stroke-width="4"/>
<line x1="1163.1" y1="997.8" x2="1163.1" y2="1006.3" stroke="#000" stroke-width="4"/>
<line x1="1182.6" y1="997.8" x2="1182.6" y2="1006.3" stroke="#000" stroke-width="4"/>
<line x1="1202.1" y1="997.8" x2="1202.1" y2="1006.3" stroke="#000" stroke-width="4"/>
<line x1="1221.7" y1="997.8" x2="1221.7" y2="1006.3" stroke="#000" stroke-width="4"/>
<line x1="1241.2" y1="997.8" x2="1241.2" y2="1006.3" stroke="#000" stroke-width="4"/>
<line x1="1260.7" y1="997.8" x2="1260.7" y2="1006.3" stroke="#000" stroke-width="4"/>
<line x1="1280.2" y1="997.8" x2="1280.2" y2="1006.3" stroke="#000" stroke-width="4"/>
<line x1="1299.8" y1="997.8" x2="1299.8" y2="1006.3" stroke="#000" stroke-width="4"/>
<line x1="1319.3" y1="997.8" x2="1319.3" y2="1006.3" stroke="#000" stroke-width="4"/>
<line x1="1338.8" y1="997.8" x2="1338.8" y2="1006.3" stroke="#000" stroke-width="4"/>
<line x1="1358.4" y1="997.8" x2="1358.4" y2="1006.3" stroke="#000" stroke-width="4"/>
<line x1="1377.9" y1="997.8" x2="1377.9" y2="1006.3" stroke="#000" stroke-width="4"/>
<line x1="1397.4" y1="997.8" x2="1397.4" y2="1006.3" stroke="#000" stroke-width="4"/>
<line x1="1417" y1="997.8" x2="1417" y2="1006.3" stroke="#000" stroke-width="4"/>
<line x1="1436.5" y1="997.8" x2="1436.5" y2="1006.3" stroke="#000" stroke-width="4"/>
<line x1="1456" y1="997.8" x2="1456" y2="1006.3" stroke="#000" stroke-width="4"/>
<line x1="1475.5" y1="997.8" x2="1475.5" y2="1006.3" stroke="#000" stroke-width="4"/>
<line x1="1495.1" y1="997.8" x2="1495.1" y2="1006.3" stroke="#000" stroke-width="4"/>
<line x1="1514.6" y1="997.8" x2="1514.6" y2="1006.3" stroke="#000" stroke-width="4"/>
<line x1="1534.1" y1="997.8" x2="1534.1" y2="1006.3" stroke="#000" stroke-width="4"/>
<line x1="1553.7" y1="997.8" x2="1553.7" y2="1006.3" stroke="#000" stroke-width="4"/>
<line x1="1573.2" y1="997.8" x2="1573.2" y2="1006.3" stroke="#000" stroke-width="4"/>
<line x1="1592.7" y1="997.8" x2="1592.7" y2="1006.3" stroke="#000" stroke-width="4"/>
<line x1="1612.3" y1="997.8" x2="1612.3" y2="1006.3" stroke="#000" stroke-width="4"/>
<line x1="1631.8" y1="997.8" x2="1631.8" y2="1006.3" stroke="#000" stroke-width="4"/>
<line x1="1651.3" y1="997.8" x2="1651.3" y2="1006.3" stroke="#000" stroke-width="4"/>
<path d="M987.3,939.9V1031.9M977.7,939.9H996.9M977.7,1031.9H996.9M1006.8,955.8V1050.2M997.2,955.8H1016.4M997.2,1050.2H1016.4M1026.4,962V1056.5M1016.8,962H1036M1016.8,1056.5H1036M1045.9,961.3V1044.3M1036.3,961.3H1055.5M1036.3,1044.3H1055.5M1065.4,952.2V1041.1M1055.8,952.2H1075M1055.8,1041.1H1075M1085,949V1056M1075.4,949H1094.5M1075.4,1056H1094.5M1104.5,952.7V1072.2M1094.9,952.7H1114.1M1094.9,1072.2H1114.1M1124,963.2V1077.4M1114.4,963.2H1133.6M1114.4,1077.4H1133.6M1143.5,979.2V1068.5M1133.9,979.2H1153.1M1133.9,1068.5H1153.1M1163.1,988.8V1058.2M1153.5,988.8H1172.7M1153.5,1058.2H1172.7M1182.6,994.3V1056M1173,994.3H1192.2M1173,1056H1192.2M1202.1,1000V1051.5M1192.5,1000H1211.7M1192.5,1051.5H1211.7M1221.7,1002.1V1049.3M1212.1,1002.1H1231.3M1212.1,1049.3H1231.3M1241.2,997V1060.4M1231.6,997H1250.8M1231.6,1060.4H1250.8M1260.7,986.8V1057.2M1251.1,986.8H1270.3M1251.1,1057.2H1270.3M1280.2,980.5V1041.4M1270.7,980.5H1289.8M1270.7,1041.4H1289.8M1299.8,976.8V1032.8M1290.2,976.8H1309.4M1290.2,1032.8H1309.4M1319.3,975.3V1031.4M1309.7,975.3H1328.9M1309.7,1031.4H1328.9M1338.8,973V1030.8M1329.2,973H1348.4M1329.2,1030.8H1348.4M1358.4,975.3V1026.5M1348.8,975.3H1368M1348.8,1026.5H1368M1377.9,979.7V1017.9M1368.3,979.7H1387.5M1368.3,1017.9H1387.5M1397.4,984V1010.4M1387.8,984H1407M1387.8,1010.4H1407M1417,980V1011.3M1407.4,980H1426.6M1407.4,1011.3H1426.6M1436.5,976.1V1015.9M1426.9,976.1H1446.1M1426.9,1015.9H1446.1M1456,980.4V1013.3M1446.4,980.4H1465.6M1446.4,1013.3H1465.6M1475.5,978V1015M1466,978H1485.1M1466,1015H1485.1M1495.1,974.3V1017.2M1485.5,974.3H1504.7M1485.5,1017.2H1504.7M1514.6,973V1014.6M1505,973H1524.2M1505,1014.6H1524.2M1534.1,963.7V1015.2M1524.5,963.7H1543.7M1524.5,1015.2H1543.7M1553.7,945.4V1021.5M1544.1,945.4H1563.3M1544.1,1021.5H1563.3" stroke="#3a3ae6" stroke-width="3" fill="none"/>
<path d="M987.3,842.2V1013.2M977.7,842.2H996.9M977.7,1013.2H996.9M1006.8,826.7V1001.4M997.2,826.7H1016.4M997.2,1001.4H1016.4M1026.4,842.2V963.2M1016.8,842.2H1036M1016.8,963.2H1036M1045.9,810.7V953.4M1036.3,810.7H1055.5M1036.3,953.4H1055.5M1065.4,797.2V968.9M1055.8,797.2H1075M1055.8,968.9H1075M1085,825V975.5M1075.4,825H1094.5M1075.4,975.5H1094.5M1104.5,861.7V987.8M1094.9,861.7H1114.1M1094.9,987.8H1114.1M1124,884.1V1017.6M1114.4,884.1H1133.6M1114.4,1017.6H1133.6M1143.5,909.7V1049.3M1133.9,909.7H1153.1M1133.9,1049.3H1153.1M1163.1,931.3V1064.8M1153.5,931.3H1172.7M1153.5,1064.8H1172.7M1182.6,969.2V1068.5M1173,969.2H1192.2M1173,1068.5H1192.2M1202.1,978.5V1109.1M1192.5,978.5H1211.7M1192.5,1109.1H1211.7M1221.7,987.3V1115.8M1212.1,987.3H1231.3M1212.1,1115.8H1231.3M1241.2,998.4V1110.6M1231.6,998.4H1250.8M1231.6,1110.6H1250.8M1260.7,969.6V1116.1M1251.1,969.6H1270.3M1251.1,1116.1H1270.3M1280.2,944.3V1077.3M1270.7,944.3H1289.8M1270.7,1077.3H1289.8M1299.8,929.4V1040M1290.2,929.4H1309.4M1290.2,1040H1309.4M1319.3,930V1024.2M1309.7,930H1328.9M1309.7,1024.2H1328.9M1338.8,926.5V1026.5M1329.2,926.5H1348.4M1329.2,1026.5H1348.4M1358.4,928.8V1018.4M1348.8,928.8H1368M1348.8,1018.4H1368M1377.9,937.4V1007M1368.3,937.4H1387.5M1368.3,1007H1387.5M1397.4,935.1V1008.4M1387.8,935.1H1407M1387.8,1008.4H1407M1417,935.1V1007.3M1407.4,935.1H1426.6M1407.4,1007.3H1426.6M1436.5,938.4V1006.7M1426.9,938.4H1446.1M1426.9,1006.7H1446.1M1456,948.9V1004.7M1446.4,948.9H1465.6M1446.4,1004.7H1465.6M1475.5,958.8V998.8M1466,958.8H1485.1M1466,998.8H1485.1M1495.1,946V1010.6M1485.5,946H1504.7M1485.5,1010.6H1504.7M1514.6,940.7V1017.8M1505,940.7H1524.2M1505,1017.8H1524.2M1534.1,932.5V1024.8M1524.5,932.5H1543.7M1524.5,1024.8H1543.7M1553.7,906.9V1012.5M1544.1,906.9H1563.3M1544.1,1012.5H1563.3" stroke="#17b617" stroke-width="3" fill="none"/>
<path d="M987.3,869.3V1022M977.7,869.3H996.9M977.7,1022H996.9M1006.8,872.2V1020.1M997.2,872.2H1016.4M997.2,1020.1H1016.4M1026.4,886.2V1011.2M1016.8,886.2H1036M1016.8,1011.2H1036M1045.9,842.7V1008.2M1036.3,842.7H1055.5M1036.3,1008.2H1055.5M1065.4,788.1V989.5M1055.8,788.1H1075M1055.8,989.5H1075M1085,752.9V972.8M1075.4,752.9H1094.5M1075.4,972.8H1094.5M1104.5,752.2V968.9M1094.9,752.2H1114.1M1094.9,968.9H1114.1M1124,771.4V982.1M1114.4,771.4H1133.6M1114.4,982.1H1133.6M1143.5,816.9V1007.2M1133.9,816.9H1153.1M1133.9,1007.2H1153.1M1163.1,860V1033.1M1153.5,860H1172.7M1153.5,1033.1H1172.7M1182.6,898.8V1056.7M1173,898.8H1192.2M1173,1056.7H1192.2M1202.1,966.2V1081.1M1192.5,966.2H1211.7M1192.5,1081.1H1211.7M1221.7,987.3V1095.8M1212.1,987.3H1231.3M1212.1,1095.8H1231.3M1241.2,972.5V1085.5M1231.6,972.5H1250.8M1231.6,1085.5H1250.8M1260.7,938.6V1061.7M1251.1,938.6H1270.3M1251.1,1061.7H1270.3M1280.2,894.3V1032.2M1270.7,894.3H1289.8M1270.7,1032.2H1289.8M1299.8,874.8V998.4M1290.2,874.8H1309.4M1290.2,998.4H1309.4M1319.3,836V1001.8M1309.7,836H1328.9M1309.7,1001.8H1328.9M1338.8,820.8V1017M1329.2,820.8H1348.4M1329.2,1017H1348.4M1358.4,851.2V1011.3M1348.8,851.2H1368M1348.8,1011.3H1368M1377.9,897.2V998.3M1368.3,897.2H1387.5M1368.3,998.3H1387.5M1397.4,923.6V1002.6M1387.8,923.6H1407M1387.8,1002.6H1407M1417,941.4V1014.6M1407.4,941.4H1426.6M1407.4,1014.6H1426.6M1436.5,950.6V1015.2M1426.9,950.6H1446.1M1426.9,1015.2H1446.1M1456,941.7V1016.5M1446.4,941.7H1465.6M1446.4,1016.5H1465.6M1475.5,931.5V1015.9M1466,931.5H1485.1M1466,1015.9H1485.1M1495.1,929.9V1002.8M1485.5,929.9H1504.7M1485.5,1002.8H1504.7M1514.6,917.4V994.9M1505,917.4H1524.2M1505,994.9H1524.2M1534.1,910.2V991M1524.5,910.2H1543.7M1524.5,991H1543.7M1553.7,896.4V998.8M1544.1,896.4H1563.3M1544.1,998.8H1563.3" stroke="#ec2b3b" stroke-width="3" fill="none"/>
<path d="M987.3,869.3V1013.2M1006.8,872.2V1001.4M1026.4,886.2V963.2M1045.9,842.7V953.4M1065.4,797.2V968.9M1085,825V972.8M1104.5,861.7V968.9M1124,884.1V982.1M1143.5,909.7V1007.2M1163.1,931.3V1033.1M1182.6,969.2V1056.7M1202.1,978.5V1081.1M1221.7,987.3V1095.8M1241.2,998.4V1085.5M1260.7,969.6V1061.7M1280.2,944.3V1032.2M1299.8,929.4V998.4M1319.3,930V1001.8M1338.8,926.5V1017M1358.4,928.8V1011.3M1377.9,937.4V998.3M1397.4,935.1V1002.6M1417,941.4V1007.3M1436.5,950.6V1006.7M1456,948.9V1004.7M1475.5,958.8V998.8M1495.1,946V1002.8M1514.6,940.7V994.9M1534.1,932.5V991M1553.7,906.9V998.8" stroke="#c41c08" stroke-width="3" fill="none"/>
<path d="M987.3,1013.2V1022M1006.8,1001.4V1020.1M1026.4,963.2V1011.2M1045.9,961.3V1008.2M1065.4,968.9V989.5M1241.2,997V998.4M1417,1007.3V1011.3M1436.5,1006.7V1015.2M1456,1004.7V1013.3M1475.5,998.8V1015" stroke="#d01052" stroke-width="3" fill="none"/>
<path d="M987.3,987.6 C989.1,988.9 1003.2,1000.3 1006.8,1002.3 C1010.4,1004.3 1022.8,1009.1 1026.4,1009.2 C1029.9,1009.3 1042.3,1004.4 1045.9,1003.3 C1049.5,1002.2 1061.8,997.7 1065.4,997.4 C1069,997.1 1081.4,998.6 1085,999.9 C1088.5,1001.2 1100.9,1010.2 1104.5,1012 C1108.1,1013.8 1120.4,1018.4 1124,1019.5 C1127.6,1020.6 1140,1023.1 1143.5,1023.5 C1147.1,1023.9 1159.5,1023.4 1163.1,1023.5 C1166.7,1023.6 1179,1024.9 1182.6,1025 C1186.2,1025.1 1198.5,1024.9 1202.1,1025 C1205.7,1025.1 1218.1,1026.1 1221.7,1026.4 C1225.2,1026.7 1237.6,1029.3 1241.2,1028.7 C1244.8,1028.1 1257.1,1021.7 1260.7,1020 C1264.3,1018.3 1276.7,1011.5 1280.2,1010 C1283.8,1008.5 1296.2,1004.9 1299.8,1004.1 C1303.4,1003.3 1315.7,1002.1 1319.3,1001.8 C1322.9,1001.5 1335.3,1000.8 1338.8,1000.6 C1342.4,1000.4 1354.8,1000 1358.4,999.8 C1362,999.6 1374.3,998.5 1377.9,998.3 C1381.5,998.1 1393.8,997.9 1397.4,997.8 C1401,997.7 1413.4,997.1 1417,997 C1420.5,996.9 1432.9,997 1436.5,997 C1440.1,997 1452.4,997 1456,997 C1459.6,997 1472,997.1 1475.5,997 C1479.1,996.9 1491.5,996.3 1495.1,996 C1498.7,995.7 1511,994.8 1514.6,994.2 C1518.2,993.6 1530.6,990 1534.1,989 C1537.7,988 1551.9,984.2 1553.7,983.7" stroke="#3a3ae6" stroke-width="3.2" fill="none" stroke-linejoin="round"/>
<path d="M987.3,927.6 C989.1,926.4 1003.2,916.3 1006.8,914 C1010.4,911.7 1022.8,905.9 1026.4,903 C1029.9,900.1 1042.3,883.6 1045.9,882 C1049.5,880.4 1061.8,883.9 1065.4,885.7 C1069,887.5 1081.4,898.3 1085,901.8 C1088.5,905.3 1100.9,919.7 1104.5,924 C1108.1,928.3 1120.4,943.8 1124,948.5 C1127.6,953.2 1140,970.5 1143.5,975 C1147.1,979.5 1159.5,993.9 1163.1,998 C1166.7,1002.1 1179,1015.8 1182.6,1020 C1186.2,1024.2 1198.5,1041.2 1202.1,1044 C1205.7,1046.8 1218.1,1049 1221.7,1050 C1225.2,1051 1237.6,1055.2 1241.2,1054.5 C1244.8,1053.8 1257.1,1046.6 1260.7,1042.7 C1264.3,1038.8 1276.7,1016.8 1280.2,1012 C1283.8,1007.2 1296.2,993.1 1299.8,990 C1303.4,986.9 1315.7,979.4 1319.3,978.2 C1322.9,977 1335.3,977.1 1338.8,976.8 C1342.4,976.5 1354.8,975.1 1358.4,974.8 C1362,974.5 1374.3,973.3 1377.9,973 C1381.5,972.7 1393.8,972.1 1397.4,971.9 C1401,971.7 1413.4,971.1 1417,971.2 C1420.5,971.3 1432.9,972.7 1436.5,973.2 C1440.1,973.8 1452.4,976.8 1456,977.2 C1459.6,977.6 1472,977.7 1475.5,977.8 C1479.1,977.9 1491.5,977.7 1495.1,977.8 C1498.7,977.9 1511,978.5 1514.6,978.5 C1518.2,978.5 1530.6,979.4 1534.1,977.8 C1537.7,976.2 1551.9,962.3 1553.7,960.7" stroke="#17b617" stroke-width="3.2" fill="none" stroke-linejoin="round"/>
<path d="M987.3,944.8 C989.1,944.9 1003.2,945.7 1006.8,946 C1010.4,946.3 1022.8,950.3 1026.4,948.5 C1029.9,946.7 1042.3,931.9 1045.9,926.3 C1049.5,920.7 1061.8,892.8 1065.4,887 C1069,881.2 1081.4,865.3 1085,862.9 C1088.5,860.5 1100.9,860 1104.5,861.2 C1108.1,862.4 1120.4,871.6 1124,876 C1127.6,880.4 1140,902.8 1143.5,909.2 C1147.1,915.6 1159.5,940.4 1163.1,946.1 C1166.7,951.8 1179,964.8 1182.6,971.8 C1186.2,978.8 1198.5,1015.6 1202.1,1022 C1205.7,1028.4 1218.1,1040.7 1221.7,1041.2 C1225.2,1041.7 1237.6,1031.8 1241.2,1027.9 C1244.8,1024 1257.1,1004.2 1260.7,998.3 C1264.3,992.4 1276.7,969.6 1280.2,963.9 C1283.8,958.2 1296.2,940.7 1299.8,936.6 C1303.4,932.5 1315.7,920.9 1319.3,919.3 C1322.9,917.7 1335.3,918.1 1338.8,919.3 C1342.4,920.5 1354.8,929.5 1358.4,932.3 C1362,935.1 1374.3,946.6 1377.9,949.5 C1381.5,952.4 1393.8,961.3 1397.4,963.9 C1401,966.5 1413.4,976.1 1417,977.8 C1420.5,979.5 1432.9,982.3 1436.5,982.4 C1440.1,982.5 1452.4,979.3 1456,978.5 C1459.6,977.7 1472,975 1475.5,973.9 C1479.1,972.8 1491.5,967.7 1495.1,966 C1498.7,964.3 1511,957 1514.6,955.5 C1518.2,954 1530.6,950.3 1534.1,949.6 C1537.7,948.9 1551.9,947.8 1553.7,947.6" stroke="#ec2b3b" stroke-width="3.2" fill="none" stroke-linejoin="round"/>
</svg>
</body></html>
